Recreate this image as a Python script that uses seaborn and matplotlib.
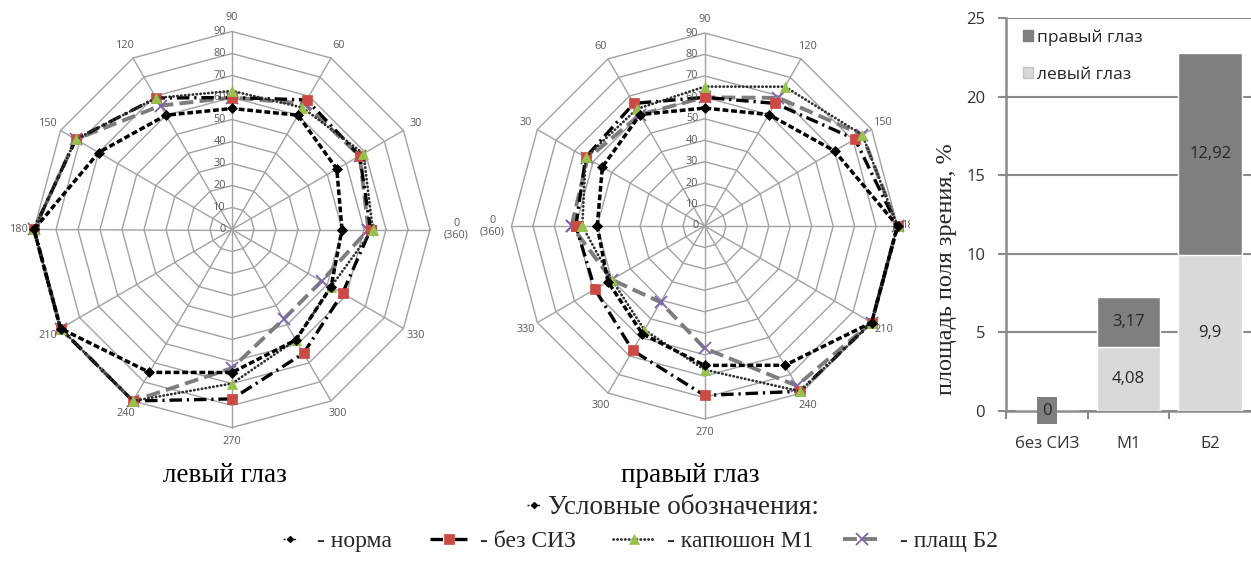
import numpy as np
import matplotlib
matplotlib.use("Agg")
import matplotlib.pyplot as plt
from matplotlib.lines import Line2D
from matplotlib.patches import Patch
from matplotlib.transforms import Bbox, TransformedBbox
from matplotlib.font_manager import FontProperties
import seaborn as sns

# ---------------------------------------------------------------- data
angles = [0, 30, 60, 90, 120, 150, 180, 210, 240, 270, 300, 330]
angle_labels = ["0\n(360)", "30", "60", "90", "120", "150", "180",
                "210", "240", "270", "300", "330"]
radial_ticks = [0, 10, 20, 30, 40, 50, 60, 70, 80, 90]

series_names = ["норма", "без СИЗ", "капюшон М1", "плащ Б2"]

# field of view boundaries, degrees, left eye
norm_left = [50, 55, 60, 55, 60, 70, 90, 90, 75, 65, 58, 52]
no_ppe_left = [63, 67, 68, 60, 69, 82, 90, 90, 90, 77, 65, 58]
hood_m1_left = [64, 69, 64, 63, 69, 82, 90, 90, 90, 70, 58, 52]
cloak_b2_left = [62, 67, 66, 60, 65, 82, 90, 90, 90, 63, 47, 47]

# field of view boundaries, degrees, right eye
norm_right = [50, 55, 60, 55, 60, 70, 90, 90, 75, 65, 58, 52]
no_ppe_right = [60, 64, 66, 60, 66, 81, 90, 90, 89, 79, 67, 59]
hood_m1_right = [57, 64, 63, 65, 75, 85, 90, 90, 89, 67, 56, 50]
cloak_b2_right = [62, 63, 60, 60, 69, 85, 90, 90, 86, 57, 41, 50]

# lost field-of-view area, %
groups = ["без СИЗ", "М1", "Б2"]
area_left = [0, 4.08, 9.9]
area_right = [0, 3.17, 12.92]

# ---------------------------------------------------------------- style
sns.set_theme(style="white")
plt.rcParams["font.family"] = ["Open Sans", "DejaVu Sans"]
plt.rcParams["lines.scale_dashes"] = False

SERIF = ["Liberation Serif", "DejaVu Serif"]
RED = "#cc4a45"
GREEN = "#98c24e"
PURPLE = "#7f63ad"
GRID = "#a2a2a2"
LABEL = "#595959"
DARK = "#7f7f7f"
LIGHT = "#d9d9d9"
AXIS_GRAY = "#8a8a8a"

styles = {
    "норма": dict(color="black", linewidth=2.5, linestyle=(0, (4.2, 2.0)),
                  marker="D", markersize=5, markerfacecolor="black",
                  markeredgecolor="black", markeredgewidth=0.5, zorder=6),
    "без СИЗ": dict(color="black", linewidth=2.4,
                    linestyle=(0, (9, 3.5, 1.6, 3.5)),
                    marker="s", markersize=7.5, markerfacecolor=RED,
                    markeredgecolor=RED, markeredgewidth=0.5, zorder=4),
    "капюшон М1": dict(color="#2e2e2e", linewidth=2.0,
                       linestyle=(0, (0.2, 2.6)), dash_capstyle="round",
                       marker="^", markersize=7.5, markerfacecolor=GREEN,
                       markeredgecolor=GREEN, markeredgewidth=0.5, zorder=5),
    "плащ Б2": dict(color="#7d7d7d", linewidth=2.8, linestyle=(0, (10, 4.5)),
                    marker="x", markersize=8, markeredgecolor=PURPLE,
                    markeredgewidth=1.3, zorder=3),
}

W, H = 1251, 564
fig = plt.figure(figsize=(W / 100, H / 100), dpi=100)
fig.patch.set_facecolor("white")


def draw_radar(ax, values, mirrored, label_r, zero_r, clip_x=None):
    if mirrored:
        ax.set_theta_zero_location("W")
        ax.set_theta_direction(-1)
    else:
        ax.set_theta_zero_location("E")
        ax.set_theta_direction(1)
    theta = np.deg2rad(angles + [360])

    # polygonal rings and spokes
    for v in radial_ticks[1:]:
        ax.plot(theta, [v] * len(theta), color=GRID, linewidth=1.0,
                zorder=1, clip_on=False)
    for a in angles:
        ax.plot([np.deg2rad(a)] * 2, [0, radial_ticks[-1]], color=GRID,
                linewidth=1.0, zorder=1, clip_on=False)

    # data series
    for name, vals in zip(series_names, values):
        sns.lineplot(x=theta, y=list(vals) + [vals[0]], ax=ax, sort=False,
                     estimator=None, clip_on=False, **styles[name])

    # radial tick labels along the upper spoke
    for v in radial_ticks:
        ax.annotate(str(v), xy=(np.pi / 2, v), xytext=(-4.5, 0),
                    textcoords="offset points", ha="right", va="center",
                    fontsize=7.8, color=LABEL, zorder=7)

    # angle labels
    for a, lab in zip(angles, angle_labels):
        r = zero_r if a == 0 else label_r
        t = ax.text(np.deg2rad(a), r, lab, ha="center", va="center",
                    fontsize=7.8, color=LABEL, linespacing=1.1)
        if clip_x is not None and a == 180:
            t.set_clip_box(TransformedBbox(
                Bbox.from_extents(0, 0, clip_x / W, 1), fig.transFigure))
            t.set_clip_on(True)

    ax.grid(False)
    ax.set_xticks([])
    ax.set_yticks([])
    ax.spines["polar"].set_visible(False)
    ax.set_xlabel("")
    ax.set_ylabel("")
    ax.set_ylim(0, radial_ticks[-1])


ax_left = fig.add_axes([34 / W, 1 - 427.5 / H, 396 / W, 396 / H],
                       projection="polar")
draw_radar(ax_left, [norm_left, no_ppe_left, hood_m1_left, cloak_b2_left],
           mirrored=False, label_r=96.5, zero_r=102)

ax_right = fig.add_axes([511.5 / W, 1 - 419 / H, 386 / W, 386 / H],
                        projection="polar")
draw_radar(ax_right, [norm_right, no_ppe_right, hood_m1_right, cloak_b2_right],
           mirrored=True, label_r=96.5, zero_r=99, clip_x=910)

# ---------------------------------------------------------------- bars
bar_ax = fig.add_axes([1006 / W, 1 - 410.7 / H, 245 / W, 392.4 / H])
totals = np.add(area_left, area_right)
sns.barplot(x=groups, y=totals, color=DARK, saturation=1, width=0.78,
            errorbar=None, ax=bar_ax, zorder=3)
sns.barplot(x=groups, y=area_left, color=LIGHT, saturation=1, width=0.78,
            errorbar=None, ax=bar_ax, zorder=3)


def fmt(v):
    return f"{v:g}".replace(".", ",")


for i, (lv, rv) in enumerate(zip(area_left, area_right)):
    if lv + rv == 0:
        bar_ax.text(i, 0, fmt(rv), ha="center", va="center", fontsize=12,
                    color="#262626", zorder=6,
                    bbox=dict(boxstyle="square,pad=0.33", fc=DARK, ec="none"))
        continue
    bar_ax.text(i, lv / 2, fmt(lv), ha="center", va="center", fontsize=12,
                color="#262626", zorder=6)
    bar_ax.text(i, lv + rv / 2, fmt(rv), ha="center", va="center",
                fontsize=12, color="#262626", zorder=6)

bar_ax.set_xlim(-0.5, 2.5)
bar_ax.set_ylim(0, 25)
bar_ax.set_yticks(range(0, 26, 5))
bar_ax.yaxis.grid(True, color=AXIS_GRAY, linewidth=1.5)
bar_ax.xaxis.grid(False)
bar_ax.set_axisbelow(True)
bar_ax.set_xticks([-0.5, 0.5, 1.5], minor=True)
bar_ax.tick_params(axis="x", which="major", length=0, pad=18,
                   labelsize=12, labelcolor="#333333", bottom=True)
bar_ax.tick_params(axis="x", which="minor", length=6, width=1.5,
                   color=AXIS_GRAY, bottom=True)
bar_ax.tick_params(axis="y", length=6, width=1.5, color=AXIS_GRAY, pad=9,
                   labelsize=12, labelcolor="#333333", left=True)
for side in ("top", "right"):
    bar_ax.spines[side].set_visible(False)
for side in ("left", "bottom"):
    bar_ax.spines[side].set_color(AXIS_GRAY)
    bar_ax.spines[side].set_linewidth(1.8)

bar_ax.set_ylabel("площадь поля зрения, %", family=SERIF, fontsize=17.5,
                  color="#262626")
bar_ax.yaxis.set_label_coords(-0.2, 0.362)

bar_ax.legend(handles=[Patch(fc=DARK, ec=DARK), Patch(fc=LIGHT, ec="#c4c4c4")],
              labels=["правый глаз", "левый глаз"], loc="upper left",
              bbox_to_anchor=(0.07, 0.972), frameon=False, borderpad=0,
              borderaxespad=0, handlelength=0.55, handleheight=0.55,
              handletextpad=0.25, labelspacing=1.2, fontsize=12.5,
              labelcolor="#262626")

# ---------------------------------------------------------------- captions
fig.text(225 / W, 1 - 476 / H, "левый глаз", ha="center", va="center",
         family=SERIF, fontsize=19.5, color="black")
fig.text(690 / W, 1 - 476 / H, "правый глаз", ha="center", va="center",
         family=SERIF, fontsize=19.5, color="black")

row_prop = FontProperties(family=SERIF, size=17)
head_prop = FontProperties(family=SERIF, size=19.5)


def key(handle, label, x_px, y_px, hlen_px, gap_px, prop):
    em = prop.get_size_in_points() * 100 / 72
    return fig.legend(handles=[handle], labels=[label], loc="center left",
                      bbox_to_anchor=(x_px / W, 1 - y_px / H), frameon=False,
                      borderpad=0, borderaxespad=0, numpoints=1,
                      handlelength=hlen_px / em, handletextpad=gap_px / em,
                      prop=prop)


small_norm = Line2D([], [], color="black", linewidth=1.0,
                    linestyle=(0, (1.5, 1.0)), marker="D", markersize=3,
                    markerfacecolor="black", markeredgecolor="black")


def legend_line(name):
    st = dict(styles[name])
    st.pop("zorder")
    return Line2D([], [], **st)


key(small_norm, "Условные обозначения:", 527, 508, 13, 8, head_prop)
key(small_norm, "- норма", 283, 541, 14, 20, row_prop)
key(legend_line("без СИЗ"), "- без СИЗ", 430, 541, 37, 13, row_prop)
key(legend_line("капюшон М1"), "- капюшон М1", 613, 541, 42, 12, row_prop)
key(legend_line("плащ Б2"), "- плащ Б2", 843, 541, 37, 20, row_prop)

fig.savefig("out.png", dpi=100, facecolor="white")
